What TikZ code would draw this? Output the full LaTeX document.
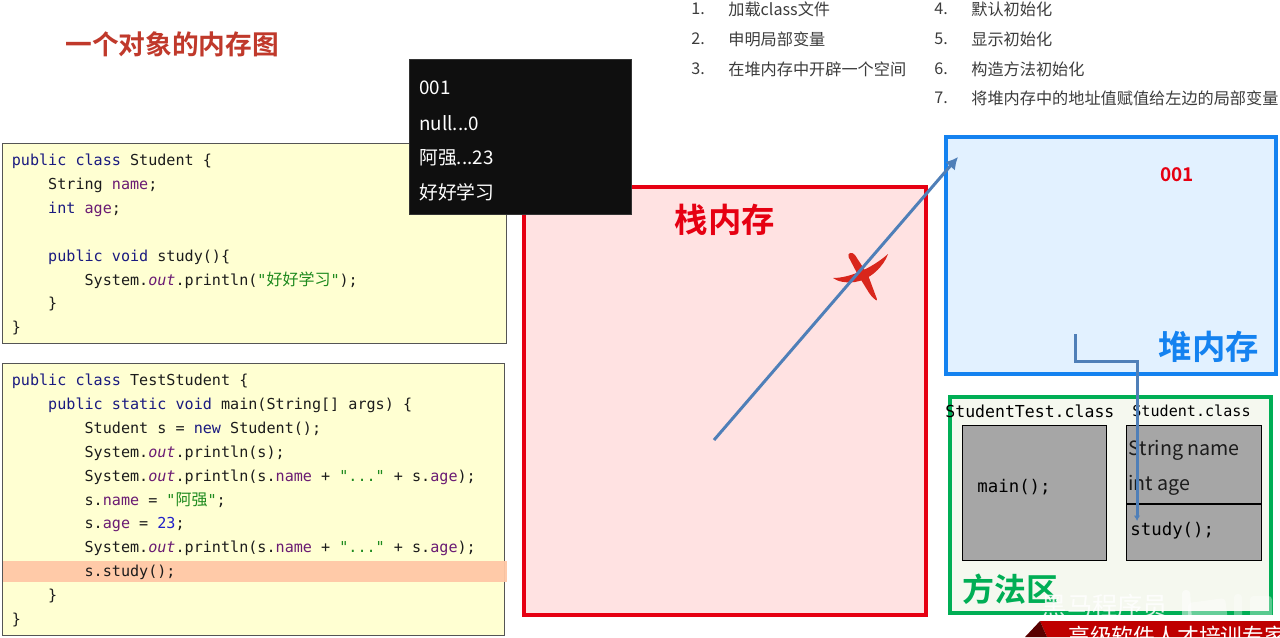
\documentclass[tikz,border=0pt]{standalone}
\usepackage{fontspec}
\setmonofont{DejaVu Sans Mono}
\newfontfamily\cjk{Noto Sans CJK SC}[BoldFont=* Bold]
\usetikzlibrary{arrows.meta,positioning}
\definecolor{codeyellow}{HTML}{FFFFD2}
\definecolor{hilite}{HTML}{FFC8A6}
\definecolor{kwblue}{HTML}{1A1A80}
\definecolor{fieldpurple}{HTML}{6A1B73}
\definecolor{strgreen}{HTML}{1E8A1E}
\definecolor{numblue}{HTML}{2020C8}
\definecolor{stackred}{HTML}{E60012}
\definecolor{stackfill}{HTML}{FFE2E2}
\definecolor{heapblue}{HTML}{1482F0}
\definecolor{heapfill}{HTML}{E2F1FF}
\definecolor{methodgreen}{HTML}{00AE55}
\definecolor{methodfill}{HTML}{F5F8EF}
\definecolor{classgray}{HTML}{A6A6A6}
\definecolor{refblue}{HTML}{4F7FB8}
\definecolor{titlered}{HTML}{C0392B}
\definecolor{crossred}{HTML}{D9261C}
\definecolor{ink}{HTML}{1C1C1C}
\definecolor{listgray}{HTML}{3C3C3C}
\newcommand{\kw}[1]{\textcolor{kwblue}{#1}}
\newcommand{\fd}[1]{\textcolor{fieldpurple}{#1}}
\newcommand{\outf}{\textcolor{fieldpurple}{\itshape out}}
\newcommand{\str}[1]{\textcolor{strgreen}{#1}}
\newcommand{\hanzi}[1]{{\cjk\fontsize{9.1}{13.55}\selectfont #1}}
\begin{document}
\begin{tikzpicture}[
  x=0.02cm, y=-0.02cm,
  %===========================================================
  % Box styles
  %===========================================================
  code_box/.style={
    rectangle,
    draw=ink!75,
    line width=0.5pt,
    fill=codeyellow,
    anchor=north west,
    inner sep=0pt,
    outer sep=0pt
  },
  code_text/.style={
    font=\fontsize{8.6}{13.57}\selectfont\ttfamily,
    text=ink,
    align=left,
    anchor=north west,
    inner sep=0pt
  },
  mem_box/.style={
    rectangle,
    line width=2.2pt,
    anchor=north west,
    inner sep=0pt,
    outer sep=0pt
  },
  class_box/.style={
    rectangle,
    draw=black,
    line width=0.5pt,
    fill=classgray,
    anchor=north west,
    inner sep=0pt,
    outer sep=0pt
  },
  %===========================================================
  % Connectors
  %===========================================================
  ref_line/.style={
    draw=refblue,
    line width=1.7pt
  },
  %===========================================================
  % Labels
  %===========================================================
  mem_title/.style={
    font=\cjk\fontsize{19}{22}\selectfont\bfseries,
    inner sep=0pt
  },
  list_item/.style={
    font=\cjk\fontsize{9.2}{11}\selectfont,
    text=listgray,
    anchor=west,
    inner sep=0pt
  },
  out_text/.style={
    font=\cjk\fontsize{10.7}{13}\selectfont,
    text=white,
    anchor=west,
    inner sep=0pt
  },
  class_label/.style={
    font=\ttfamily,
    text=black,
    anchor=west,
    inner sep=0pt
  }
]
  \useasboundingbox (0,0) rectangle (1280,637);
  \fill[white] (0,0) rectangle (1280,637);

  \node[font=\cjk\fontsize{15.2}{18}\selectfont\bfseries, text=titlered, anchor=west, inner sep=0pt]
    (page_title) at (65,44) {一个对象的内存图};

  %====================================================================
  % Steps, top right
  %====================================================================
  \node[list_item] (num_1) at (691,9)  {1.};
  \node[list_item] (num_2) at (691,39) {2.};
  \node[list_item] (num_3) at (691,69) {3.};
  \node[list_item] (step_1) at (728,9)  {加载class文件};
  \node[list_item] (step_2) at (728,39) {申明局部变量};
  \node[list_item] (step_3) at (728,69) {在堆内存中开辟一个空间};
  \node[list_item] (num_4) at (934,9)  {4.};
  \node[list_item] (num_5) at (934,39) {5.};
  \node[list_item] (num_6) at (934,69) {6.};
  \node[list_item] (num_7) at (934,98) {7.};
  \node[list_item] (step_4) at (971,9)  {默认初始化};
  \node[list_item] (step_5) at (971,39) {显示初始化};
  \node[list_item] (step_6) at (971,69) {构造方法初始化};
  \node[list_item] (step_7) at (971,98) {将堆内存中的地址值赋值给左边的局部变量};

  %====================================================================
  % Source code, left
  %====================================================================
  \node[code_box, minimum width=504*0.02cm, minimum height=200*0.02cm] (student_code) at (2,143) {};
  \node[code_box, minimum width=502*0.02cm, minimum height=272*0.02cm] (test_code) at (2,363) {};
  \fill[hilite, opacity=0.95] (3,561) rectangle (507,582);

  \node[code_text] (student_src) at (11.5,154)
    {\kw{public} \kw{class} Student \{\\
     ~~~~String \fd{name};\\
     ~~~~\kw{int} \fd{age};\\
     ~\\
     ~~~~\kw{public} \kw{void} study()\{\\
     ~~~~~~~~System.\outf.println(\str{"\hanzi{好好学习}"});\\
     ~~~~\}\\
     \}};

  \node[code_text] (test_src) at (11.5,374)
    {\kw{public} \kw{class} TestStudent \{\\
     ~~~~\kw{public} \kw{static} \kw{void} main(String[] args) \{\\
     ~~~~~~~~Student s = \kw{new} Student();\\
     ~~~~~~~~System.\outf.println(s);\\
     ~~~~~~~~System.\outf.println(s.\fd{name} + \str{"..."} + s.\fd{age});\\
     ~~~~~~~~s.\fd{name} = \str{"\hanzi{阿强}"};\\
     ~~~~~~~~s.\fd{age} = \textcolor{numblue}{23};\\
     ~~~~~~~~System.\outf.println(s.\fd{name} + \str{"..."} + s.\fd{age});\\
     ~~~~~~~~s.study();\\
     ~~~~\}\\
     \}};

  %====================================================================
  % Stack memory
  %====================================================================
  \node[mem_box, draw=stackred, fill=stackfill, minimum width=402*0.02cm, minimum height=428*0.02cm]
    (stack_box) at (524,187) {};
  \node[mem_title, text=stackred] (stack_title) at (725,220) {栈内存};

  %====================================================================
  % Console output, drawn over the code and the stack
  %====================================================================
  \node[rectangle, fill=black!94, draw=black!80, line width=0.4pt, anchor=north west, inner sep=0pt, outer sep=0pt,
    minimum width=222*0.02cm, minimum height=155*0.02cm] (console_box) at (409,59) {};
  \node[out_text] (out_1) at (419,88)  {001};
  \node[out_text] (out_2) at (419,123) {null...0};
  \node[out_text] (out_3) at (419,158) {阿强...23};
  \node[out_text] (out_4) at (419,192) {好好学习};

  %====================================================================
  % Heap memory
  %====================================================================
  \node[mem_box, draw=heapblue, fill=heapfill, minimum width=330*0.02cm, minimum height=237*0.02cm]
    (heap_box) at (946,137) {};
  \node[mem_title, text=heapblue] (heap_title) at (1209,347) {堆内存};
  \node[font=\cjk\fontsize{10.8}{13}\selectfont\bfseries, text=stackred, inner sep=0pt]
    (heap_addr) at (1177,175) {001};

  %====================================================================
  % Method area
  %====================================================================
  \node[mem_box, draw=methodgreen, fill=methodfill, minimum width=321*0.02cm, minimum height=216*0.02cm]
    (method_box) at (950,397) {};
  \node[mem_title, text=methodgreen, font=\cjk\fontsize{18.2}{22}\selectfont\bfseries]
    (method_title) at (1010,589) {方法区};

  \node[class_label, font=\fontsize{9.4}{11}\selectfont\ttfamily] (test_label) at (945,411) {StudentTest.class};
  \node[class_label, font=\fontsize{8.6}{11}\selectfont\ttfamily] (student_label) at (1132,411) {Student.class};

  \node[class_box, minimum width=144*0.02cm, minimum height=135*0.02cm] (main_box) at (962,425) {};
  \node[class_box, minimum width=135*0.02cm, minimum height=135*0.02cm] (student_box) at (1126,425) {};
  \draw[black, line width=1.3pt] (student_box.west |- 0,504) -- (student_box.east |- 0,504);

  \node[class_label, font=\fontsize{9.9}{12}\selectfont\ttfamily] (main_label) at (977,487) {main();};
  \node[class_label, font=\cjk\fontsize{11.2}{13}\selectfont, text=ink] (name_field) at (1128,450) {String name};
  \node[class_label, font=\cjk\fontsize{11.2}{13}\selectfont, text=ink] (age_field) at (1128,485) {int age};
  \node[class_label, font=\fontsize{9.9}{12}\selectfont\ttfamily] (study_label) at (1130,531) {study();};

  %====================================================================
  % Hand-drawn cross, then the references on top of it
  %====================================================================
  \fill[crossred] (833,278) .. controls (850,278) and (872,268) .. (888,254)
    .. controls (884,266) and (870,280) .. (855,282) .. controls (847,283) and (838,282) .. (833,278) -- cycle;
  \fill[crossred, rounded corners=2pt] (847,254) -- (853,252) -- (868,275) -- (878,302) -- (871,296) -- (858,275) -- cycle;

  \coordinate (stack_ref) at (714,440);
  \coordinate (heap_ref) at (958,157);
  \coordinate (ref_start) at (1075,334);
  \coordinate (ref_turn) at (1137,361);
  \coordinate (ref_end) at (1137,521);

  \draw[ref_line, -{Latex[length=2.4mm,width=2.6mm]}] (stack_ref) -- (heap_ref);
  \draw[ref_line, -{Latex[length=1.1mm,width=1.3mm]}] (ref_start) |- (ref_turn) -- (ref_end);

  %====================================================================
  % Video watermark, bottom right
  %====================================================================
  \node[font=\cjk\fontsize{14.4}{16}\selectfont, text=white, opacity=0.85, inner sep=0pt]
    (mark_text) at (1105,606) {黑马程序员};
  \fill[white, opacity=0.5, rounded corners=2pt] (1182,590) -- (1190,590) -- (1192,621) -- (1182,621) -- cycle;
  \fill[white, opacity=0.4, rounded corners=2pt] (1188,603) -- (1225,598) -- (1228,621) -- (1188,621) -- cycle;
  \fill[white, opacity=0.35, rounded corners=2pt] (1234,594) -- (1242,594) -- (1242,621) -- (1234,621) -- cycle;
  \fill[white, opacity=0.35, rounded corners=2pt] (1250,596) -- (1272,596) -- (1272,621) -- (1250,621) -- cycle;

  \begin{scope}
    \clip (0,0) rectangle (1280,637);
    \fill[red!75!black] (1040,621) -- (1280,621) -- (1280,637) -- (1047,637) -- cycle;
    \fill[red!35!black] (1040,621) -- (1047,637) -- (1025,637) -- cycle;
    \node[font=\cjk\fontsize{12.4}{14}\selectfont, text=white, anchor=west, inner sep=0pt]
      (banner_text) at (1068,636) {高级软件人才培训专家};
  \end{scope}

\end{tikzpicture}
\end{document}
